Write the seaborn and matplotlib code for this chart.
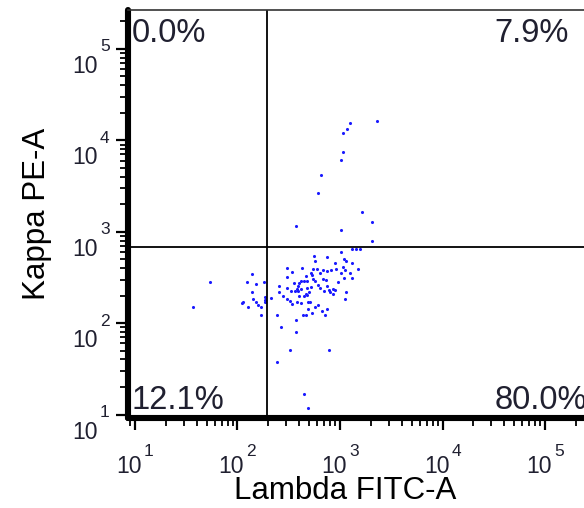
import numpy as np
import pandas as pd
import matplotlib
matplotlib.use("Agg")
import matplotlib.pyplot as plt
import matplotlib.ticker as mticker
import matplotlib.transforms as mtransforms
import seaborn as sns

# ---- data (events) ----
lambda_fitc = [554, 752, 574, 1023, 1101, 1136, 893, 1319, 1070, 1510,
               302, 423, 342, 549, 601, 687, 741, 811, 913, 1016,
               1126, 1262, 518, 638, 537, 466, 302, 419, 445, 473,
               542, 567, 687, 730, 1094, 1302, 962, 138, 152, 180,
               123, 54, 252, 353, 398, 392, 416, 518, 473, 502,
               479, 606, 638, 698, 741, 776, 804, 859, 887, 847,
               1152, 254, 302, 332, 280, 302, 325, 361, 378, 392,
               398, 448, 466, 342, 378, 414, 484, 510, 571, 606,
               533, 484, 663, 752, 714, 432, 466, 1111, 138, 143,
               150, 160, 171, 127, 114, 111, 187, 187, 187, 212,
               241, 264, 372, 372, 325, 780, 243, 445, 484, 37,
               171, 1303, 1443, 1567, 1262, 2310, 1162, 1063, 1063, 1023,
               657, 606, 1650, 2053, 374, 1023, 2053]
kappa_pe = [538, 533, 478, 600, 502, 478, 458, 458, 414, 394,
            398, 398, 359, 391, 388, 381, 374, 381, 391, 350,
            381, 356, 350, 356, 336, 328, 323, 292, 292, 292,
            305, 292, 307, 297, 310, 310, 285, 344, 266, 280,
            280, 282, 255, 278, 273, 255, 236, 250, 244, 220,
            203, 262, 240, 226, 255, 230, 220, 208, 228, 234,
            220, 220, 240, 226, 198, 182, 176, 223, 236, 226,
            198, 200, 210, 162, 171, 167, 169, 171, 149, 156,
            128, 141, 136, 141, 124, 123, 123, 182, 220, 182,
            171, 158, 149, 149, 171, 165, 195, 179, 171, 190,
            123, 91, 107, 80, 51, 51, 38, 16.6, 11.8, 149,
            123, 646, 646, 646, 15460, 16260, 13280, 12100, 7390, 6080,
            4140, 2650, 1630, 1276, 1153, 1046, 791]

gate_lambda = 195      # vertical quadrant gate
gate_kappa = 686       # horizontal quadrant gate
quadrant_labels = ["0.0%", "7.9%", "12.1%", "80.0%"]  # UL, UR, LL, LR

decade_ticks = [10, 100, 1000, 10000, 100000]
tick_base = "10"
tick_exponents = ["1", "2", "3", "4", "5"]

df = pd.DataFrame({"Lambda FITC-A": lambda_fitc, "Kappa PE-A": kappa_pe})

sns.set_style("white")
plt.rcParams["font.family"] = ["Liberation Sans", "DejaVu Sans"]

W, H = 584, 508
fig = plt.figure(figsize=(W / 100, H / 100), dpi=100)
fig.patch.set_facecolor("white")
ax = fig.add_axes([128 / W, 1 - 418 / H, (W - 128) / W, (418 - 10) / H])

sns.scatterplot(data=df, x="Lambda FITC-A", y="Kappa PE-A", ax=ax,
                color="#1a1aff", s=5, linewidth=0, marker="o", legend=False)

ax.set_xscale("log")
ax.set_yscale("log")
ax.set_xlim(10 ** 0.932, 10 ** 5.38)
ax.set_ylim(10 ** 0.962, 10 ** 5.426)

ax.axvline(gate_lambda, color="black", lw=1.3, zorder=1)
ax.axhline(gate_kappa, color="black", lw=1.3, zorder=1)

ax.xaxis.set_major_locator(mticker.FixedLocator(decade_ticks))
ax.yaxis.set_major_locator(mticker.FixedLocator(decade_ticks))
ax.xaxis.set_major_formatter(mticker.FixedFormatter([tick_base] * len(decade_ticks)))
ax.yaxis.set_major_formatter(mticker.FixedFormatter([tick_base] * len(decade_ticks)))
ax.xaxis.set_minor_locator(mticker.LogLocator(base=10, subs=np.arange(2, 10), numticks=50))
ax.yaxis.set_minor_locator(mticker.LogLocator(base=10, subs=np.arange(2, 10), numticks=50))
ax.xaxis.set_minor_formatter(mticker.NullFormatter())
ax.yaxis.set_minor_formatter(mticker.NullFormatter())

txt_color = "#202030"
lab_fs = 16.5
sup_fs = 12.5
ax.tick_params(axis="both", which="both", bottom=True, left=True, top=False, right=False)
ax.tick_params(axis="both", which="major", direction="out", length=8.5, width=1.6,
               color="black", labelcolor=txt_color, labelsize=lab_fs)
ax.tick_params(axis="both", which="minor", direction="out", length=6, width=1.3,
               color="black")
ax.tick_params(axis="x", which="major", pad=18)
ax.tick_params(axis="y", which="major", pad=13)

# shift the base "10" labels like the reference
xshift = mtransforms.ScaledTranslation(-6 / 100, 0, fig.dpi_scale_trans)
yshift = mtransforms.ScaledTranslation(0, -15 / 100, fig.dpi_scale_trans)
for lbl in ax.get_xticklabels():
    lbl.set_transform(lbl.get_transform() + xshift)
for lbl in ax.get_yticklabels():
    lbl.set_transform(lbl.get_transform() + yshift)

# superscript exponents
for val, ex in zip(decade_ticks, tick_exponents):
    ax.annotate(ex, xy=(val, 0), xycoords=ax.get_xaxis_transform(),
                xytext=(9, -33), textcoords="offset pixels",
                ha="left", va="center", fontsize=sup_fs, color=txt_color,
                annotation_clip=False)
    ax.annotate(ex, xy=(0, val), xycoords=ax.get_yaxis_transform(),
                xytext=(-28, 2), textcoords="offset pixels",
                ha="left", va="center", fontsize=sup_fs, color=txt_color,
                annotation_clip=False)

for side in ("left", "bottom"):
    ax.spines[side].set_linewidth(4.4)
    ax.spines[side].set_color("black")
    ax.spines[side].set_capstyle("round")
ax.spines["top"].set_linewidth(1.2)
ax.spines["top"].set_color("#333333")
ax.spines["right"].set_visible(False)

ax.set_xlabel("Lambda FITC-A", fontsize=22.5, color="black")
ax.set_ylabel("Kappa PE-A", fontsize=22.5, color="black")
ax.xaxis.set_label_coords((345 - 128) / 456, (418 - 476) / 408)
ax.yaxis.set_label_coords((52 - 128) / 456, 0.5)

fs = 23.5
ax.text(0.0077, 0.921, quadrant_labels[0], transform=ax.transAxes, fontsize=fs,
        color=txt_color, ha="left", va="baseline")
ax.text(0.803, 0.921, quadrant_labels[1], transform=ax.transAxes, fontsize=fs,
        color=txt_color, ha="left", va="baseline")
ax.text(0.0077, 0.022, quadrant_labels[2], transform=ax.transAxes, fontsize=fs,
        color=txt_color, ha="left", va="baseline")
ax.text(0.803, 0.022, quadrant_labels[3], transform=ax.transAxes, fontsize=fs,
        color=txt_color, ha="left", va="baseline", clip_on=False)

fig.savefig("out.png", dpi=100)
